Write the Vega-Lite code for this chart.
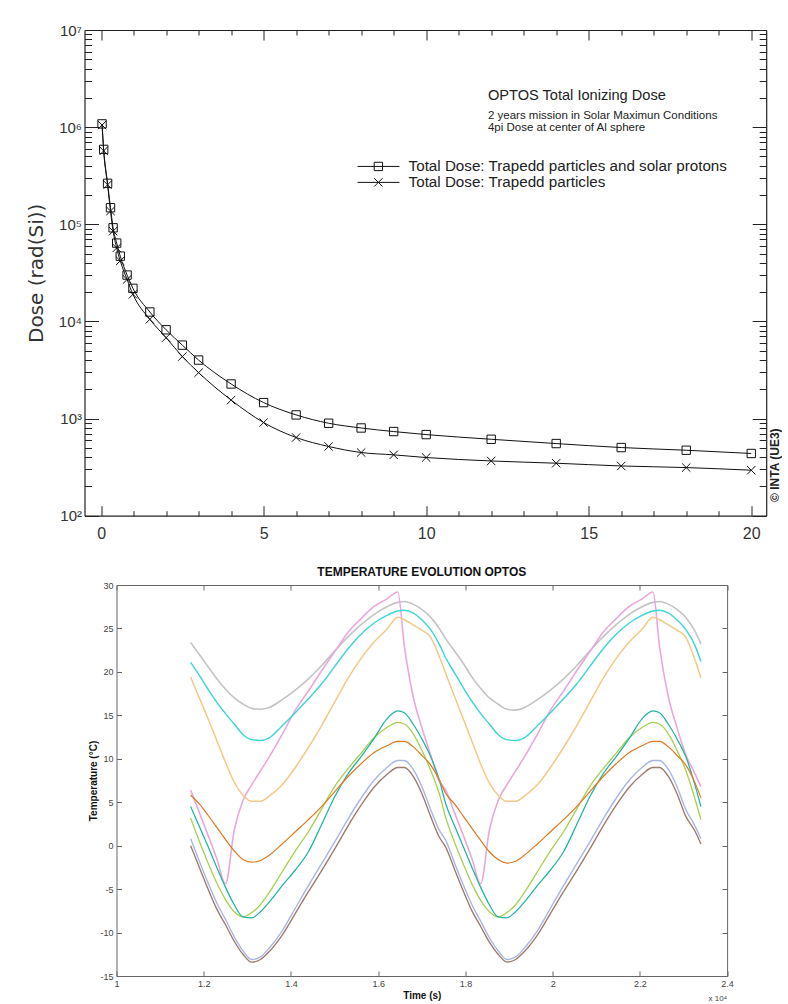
{
  "$schema": "https://vega.github.io/schema/vega-lite/v6.json",
  "background": "white",
  "padding": {"left": 25.5, "top": 23, "right": 0, "bottom": 0},
  "spacing": 19,
  "config": {"view": {"stroke": null}, "font": "Liberation Sans", "axis": {"grid": false}},
  "datasets": {
    "dose": [
      {"series": "A", "d": 0.03, "dose": 1080000}, {"series": "A", "d": 0.08, "dose": 590000}, {"series": "A", "d": 0.2, "dose": 264000},
      {"series": "A", "d": 0.29, "dose": 148000}, {"series": "A", "d": 0.37, "dose": 92000}, {"series": "A", "d": 0.48, "dose": 64000},
      {"series": "A", "d": 0.59, "dose": 47000}, {"series": "A", "d": 0.8, "dose": 30000}, {"series": "A", "d": 0.98, "dose": 21900},
      {"series": "A", "d": 1.5, "dose": 12500}, {"series": "A", "d": 2, "dose": 8200}, {"series": "A", "d": 2.5, "dose": 5700},
      {"series": "A", "d": 3, "dose": 4000}, {"series": "A", "d": 4, "dose": 2270}, {"series": "A", "d": 5, "dose": 1460},
      {"series": "A", "d": 6, "dose": 1090}, {"series": "A", "d": 7, "dose": 895}, {"series": "A", "d": 8, "dose": 800},
      {"series": "A", "d": 9, "dose": 735}, {"series": "A", "d": 10, "dose": 684}, {"series": "A", "d": 12, "dose": 612},
      {"series": "A", "d": 14, "dose": 553}, {"series": "A", "d": 16, "dose": 503}, {"series": "A", "d": 18, "dose": 472},
      {"series": "A", "d": 20, "dose": 437},
      {"series": "B", "d": 0.03, "dose": 1050000}, {"series": "B", "d": 0.08, "dose": 570000}, {"series": "B", "d": 0.2, "dose": 255000},
      {"series": "B", "d": 0.29, "dose": 137000}, {"series": "B", "d": 0.37, "dose": 85000}, {"series": "B", "d": 0.48, "dose": 57000},
      {"series": "B", "d": 0.59, "dose": 42000}, {"series": "B", "d": 0.8, "dose": 27000}, {"series": "B", "d": 0.98, "dose": 19000},
      {"series": "B", "d": 1.5, "dose": 10500}, {"series": "B", "d": 2, "dose": 6800}, {"series": "B", "d": 2.5, "dose": 4350},
      {"series": "B", "d": 3, "dose": 2970}, {"series": "B", "d": 4, "dose": 1550}, {"series": "B", "d": 5, "dose": 910},
      {"series": "B", "d": 6, "dose": 638}, {"series": "B", "d": 7, "dose": 516}, {"series": "B", "d": 8, "dose": 447},
      {"series": "B", "d": 9, "dose": 423}, {"series": "B", "d": 10, "dose": 397}, {"series": "B", "d": 12, "dose": 366},
      {"series": "B", "d": 14, "dose": 347}, {"series": "B", "d": 16, "dose": 325}, {"series": "B", "d": 18, "dose": 313},
      {"series": "B", "d": 20, "dose": 294}
    ],
    "legend": [
      {"series": "A", "x1": 7.89, "x2": 9.18, "xm": 8.53, "xt": 9.46, "y": 394000, "label": "Total Dose: Trapedd particles and solar protons"},
      {"series": "B", "x1": 7.89, "x2": 9.18, "xm": 8.53, "xt": 9.46, "y": 270000, "label": "Total Dose: Trapedd particles"}
    ],
    "temp": [
      {"t": 11700, "gray": 23.4, "pink": 6.4, "yel": 19.4, "cyan": 21.1, "lav": 0.8, "brn": 0.0, "grn": 3.2, "teal": 4.5, "org": 5.8},
      {"t": 11900, "gray": 22.0, "pink": 3.8, "yel": 17.0, "cyan": 19.6, "lav": -1.8, "brn": -2.5, "grn": 0.5, "teal": 2.2, "org": 4.8},
      {"t": 12100, "gray": 20.6, "pink": 1.2, "yel": 14.6, "cyan": 18.0, "lav": -4.3, "brn": -5.0, "grn": -2.0, "teal": -0.1, "org": 3.5},
      {"t": 12300, "gray": 19.2, "pink": -1.5, "yel": 12.1, "cyan": 16.5, "lav": -6.6, "brn": -7.3, "grn": -4.3, "teal": -2.5, "org": 2.1},
      {"t": 12500, "gray": 18.0, "pink": -4.4, "yel": 9.6, "cyan": 15.2, "lav": -8.5, "brn": -9.1, "grn": -6.2, "teal": -4.8, "org": 0.7},
      {"t": 12700, "gray": 17.0, "pink": 1.8, "yel": 7.3, "cyan": 14.0, "lav": -10.5, "brn": -11.0, "grn": -7.6, "teal": -6.8, "org": -0.6},
      {"t": 12900, "gray": 16.3, "pink": 5.2, "yel": 5.8, "cyan": 12.8, "lav": -12.1, "brn": -12.5, "grn": -8.2, "teal": -8.2, "org": -1.6},
      {"t": 13100, "gray": 15.8, "pink": 7.0, "yel": 5.1, "cyan": 12.2, "lav": -13.1, "brn": -13.4, "grn": -7.7, "teal": -8.3, "org": -1.9},
      {"t": 13300, "gray": 15.7, "pink": 8.6, "yel": 5.1, "cyan": 12.1, "lav": -12.8, "brn": -13.1, "grn": -6.8, "teal": -7.6, "org": -1.7},
      {"t": 13500, "gray": 15.9, "pink": 10.2, "yel": 5.7, "cyan": 12.4, "lav": -11.8, "brn": -12.2, "grn": -5.4, "teal": -6.5, "org": -1.1},
      {"t": 13800, "gray": 16.8, "pink": 12.8, "yel": 7.0, "cyan": 13.8, "lav": -9.8, "brn": -10.3, "grn": -3.0, "teal": -4.6, "org": 0.2},
      {"t": 14100, "gray": 17.9, "pink": 15.6, "yel": 9.0, "cyan": 15.3, "lav": -7.2, "brn": -7.8, "grn": -0.6, "teal": -2.8, "org": 1.6},
      {"t": 14400, "gray": 19.2, "pink": 17.8, "yel": 11.3, "cyan": 16.9, "lav": -4.6, "brn": -5.3, "grn": 1.6, "teal": -0.7, "org": 3.0},
      {"t": 14700, "gray": 20.7, "pink": 20.1, "yel": 13.8, "cyan": 18.6, "lav": -2.1, "brn": -2.9, "grn": 4.2, "teal": 2.4, "org": 4.5},
      {"t": 15000, "gray": 22.4, "pink": 22.3, "yel": 16.5, "cyan": 20.6, "lav": 0.4, "brn": -0.4, "grn": 6.8, "teal": 5.6, "org": 6.2},
      {"t": 15300, "gray": 24.0, "pink": 24.5, "yel": 19.2, "cyan": 22.6, "lav": 3.0, "brn": 2.2, "grn": 8.8, "teal": 8.2, "org": 7.9},
      {"t": 15600, "gray": 25.4, "pink": 26.1, "yel": 21.5, "cyan": 24.3, "lav": 5.4, "brn": 4.6, "grn": 10.6, "teal": 10.2, "org": 9.4},
      {"t": 15900, "gray": 26.6, "pink": 27.5, "yel": 23.4, "cyan": 25.6, "lav": 7.5, "brn": 6.7, "grn": 12.4, "teal": 12.3, "org": 10.7},
      {"t": 16200, "gray": 27.5, "pink": 28.4, "yel": 24.9, "cyan": 26.5, "lav": 9.0, "brn": 8.2, "grn": 13.6, "teal": 14.6, "org": 11.5},
      {"t": 16450, "gray": 28.0, "pink": 29.2, "yel": 26.3, "cyan": 27.0, "lav": 9.8, "brn": 9.0, "grn": 14.2, "teal": 15.5, "org": 12.0},
      {"t": 16600, "gray": 28.1, "pink": 23.0, "yel": 26.0, "cyan": 27.1, "lav": 9.8, "brn": 9.0, "grn": 14.0, "teal": 15.3, "org": 12.0},
      {"t": 16800, "gray": 27.8, "pink": 17.2, "yel": 25.4, "cyan": 26.8, "lav": 8.8, "brn": 8.0, "grn": 12.9, "teal": 14.0, "org": 11.4},
      {"t": 17000, "gray": 27.2, "pink": 13.6, "yel": 24.8, "cyan": 26.0, "lav": 6.8, "brn": 6.0, "grn": 11.0, "teal": 12.3, "org": 10.4},
      {"t": 17200, "gray": 26.3, "pink": 10.5, "yel": 24.0, "cyan": 24.9, "lav": 4.2, "brn": 3.4, "grn": 8.7, "teal": 10.3, "org": 9.3},
      {"t": 17400, "gray": 25.0, "pink": 7.4, "yel": 21.8, "cyan": 23.2, "lav": 1.8, "brn": 1.0, "grn": 6.0, "teal": 7.6, "org": 7.6},
      {"t": 17550, "gray": 23.8, "pink": 6.4, "yel": 19.8, "cyan": 21.6, "lav": 0.6, "brn": -0.2, "grn": 3.2, "teal": 4.8, "org": 6.0},
      {"t": 17750, "gray": 22.4, "pink": 3.8, "yel": 17.2, "cyan": 19.9, "lav": -2.0, "brn": -2.7, "grn": 0.4, "teal": 2.3, "org": 4.8},
      {"t": 17950, "gray": 21.0, "pink": 1.2, "yel": 14.6, "cyan": 18.2, "lav": -4.5, "brn": -5.2, "grn": -2.1, "teal": -0.1, "org": 3.4},
      {"t": 18150, "gray": 19.4, "pink": -1.5, "yel": 12.0, "cyan": 16.6, "lav": -6.8, "brn": -7.5, "grn": -4.4, "teal": -2.5, "org": 2.0},
      {"t": 18350, "gray": 18.1, "pink": -4.4, "yel": 9.4, "cyan": 15.2, "lav": -8.7, "brn": -9.3, "grn": -6.3, "teal": -4.8, "org": 0.6},
      {"t": 18550, "gray": 17.0, "pink": 1.8, "yel": 7.2, "cyan": 14.0, "lav": -10.6, "brn": -11.1, "grn": -7.6, "teal": -6.8, "org": -0.7},
      {"t": 18750, "gray": 16.3, "pink": 5.2, "yel": 5.8, "cyan": 12.8, "lav": -12.1, "brn": -12.5, "grn": -8.2, "teal": -8.2, "org": -1.6},
      {"t": 18950, "gray": 15.7, "pink": 7.0, "yel": 5.1, "cyan": 12.2, "lav": -13.1, "brn": -13.4, "grn": -7.7, "teal": -8.3, "org": -2.0},
      {"t": 19150, "gray": 15.6, "pink": 8.6, "yel": 5.1, "cyan": 12.1, "lav": -12.8, "brn": -13.1, "grn": -6.8, "teal": -7.6, "org": -1.8},
      {"t": 19350, "gray": 15.9, "pink": 10.2, "yel": 5.7, "cyan": 12.4, "lav": -11.8, "brn": -12.2, "grn": -5.4, "teal": -6.5, "org": -1.1},
      {"t": 19650, "gray": 16.8, "pink": 12.8, "yel": 7.0, "cyan": 13.8, "lav": -9.8, "brn": -10.3, "grn": -3.0, "teal": -4.6, "org": 0.2},
      {"t": 19950, "gray": 17.9, "pink": 15.6, "yel": 9.0, "cyan": 15.3, "lav": -7.2, "brn": -7.8, "grn": -0.6, "teal": -2.8, "org": 1.6},
      {"t": 20250, "gray": 19.2, "pink": 17.8, "yel": 11.3, "cyan": 16.9, "lav": -4.6, "brn": -5.3, "grn": 1.6, "teal": -0.7, "org": 3.0},
      {"t": 20550, "gray": 20.7, "pink": 20.1, "yel": 13.8, "cyan": 18.6, "lav": -2.1, "brn": -2.9, "grn": 4.2, "teal": 2.4, "org": 4.5},
      {"t": 20850, "gray": 22.4, "pink": 22.3, "yel": 16.5, "cyan": 20.6, "lav": 0.4, "brn": -0.4, "grn": 6.8, "teal": 5.6, "org": 6.2},
      {"t": 21150, "gray": 24.0, "pink": 24.5, "yel": 19.2, "cyan": 22.6, "lav": 3.0, "brn": 2.2, "grn": 8.8, "teal": 8.2, "org": 7.9},
      {"t": 21450, "gray": 25.4, "pink": 26.1, "yel": 21.5, "cyan": 24.3, "lav": 5.4, "brn": 4.6, "grn": 10.6, "teal": 10.2, "org": 9.4},
      {"t": 21750, "gray": 26.6, "pink": 27.5, "yel": 23.4, "cyan": 25.6, "lav": 7.5, "brn": 6.7, "grn": 12.4, "teal": 12.3, "org": 10.7},
      {"t": 22050, "gray": 27.5, "pink": 28.4, "yel": 24.9, "cyan": 26.5, "lav": 9.0, "brn": 8.2, "grn": 13.6, "teal": 14.6, "org": 11.5},
      {"t": 22300, "gray": 28.0, "pink": 29.2, "yel": 26.3, "cyan": 27.0, "lav": 9.8, "brn": 9.0, "grn": 14.2, "teal": 15.5, "org": 12.0},
      {"t": 22450, "gray": 28.1, "pink": 23.0, "yel": 26.0, "cyan": 27.1, "lav": 9.8, "brn": 9.0, "grn": 14.0, "teal": 15.3, "org": 12.0},
      {"t": 22650, "gray": 27.8, "pink": 17.2, "yel": 25.4, "cyan": 26.8, "lav": 8.8, "brn": 8.0, "grn": 12.9, "teal": 14.0, "org": 11.4},
      {"t": 22850, "gray": 27.2, "pink": 13.6, "yel": 24.8, "cyan": 26.0, "lav": 6.8, "brn": 6.0, "grn": 11.0, "teal": 12.3, "org": 10.4},
      {"t": 23050, "gray": 26.3, "pink": 10.5, "yel": 24.0, "cyan": 24.9, "lav": 4.2, "brn": 3.4, "grn": 8.7, "teal": 10.3, "org": 9.3},
      {"t": 23250, "gray": 24.8, "pink": 8.4, "yel": 21.6, "cyan": 23.2, "lav": 2.4, "brn": 1.8, "grn": 5.6, "teal": 7.2, "org": 7.4},
      {"t": 23400, "gray": 23.2, "pink": 6.8, "yel": 19.3, "cyan": 21.2, "lav": 0.8, "brn": 0.2, "grn": 3.0, "teal": 4.5, "org": 5.5}
    ]
  },
  "vconcat": [
    {
      "width": 681.7,
      "height": 485.7,
      "layer": [
        {
          "data": {"name": "dose"},
          "mark": {"type": "line", "color": "#111", "strokeWidth": 1, "interpolate": "monotone"},
          "encoding": {
            "x": {"field": "d", "type": "quantitative", "scale": {"domain": [-0.51, 20.46], "nice": false, "zero": false},
              "axis": {"orient": "bottom", "values": [0,1,2,3,4,5,6,7,8,9,10,11,12,13,14,15,16,17,18,19,20],
                "labelExpr": "datum.value % 5 === 0 ? datum.label : ''",
                "tickSize": {"condition": {"test": "datum.value % 5 === 0", "value": -10}, "value": -5},
                "labelPadding": 20, "labelFontSize": 16, "labelColor": "#333", "labelOverlap": false, "labelFlush": false,
                "domainColor": "#222", "tickColor": "#222", "domainWidth": 1.2, "tickWidth": 1, "title": null}},
            "y": {"field": "dose", "type": "quantitative", "scale": {"type": "log", "domain": [100, 10000000], "nice": false},
              "axis": {"orient": "left",
                "values": [100,200,300,400,500,600,700,800,900,1000,2000,3000,4000,5000,6000,7000,8000,9000,10000,20000,30000,40000,50000,60000,70000,80000,90000,100000,200000,300000,400000,500000,600000,700000,800000,900000,1000000,2000000,3000000,4000000,5000000,6000000,7000000,8000000,9000000,10000000],
                "labelExpr": "datum.value == 100 ? '10²' : datum.value == 1000 ? '10³' : datum.value == 10000 ? '10⁴' : datum.value == 100000 ? '10⁵' : datum.value == 1000000 ? '10⁶' : datum.value == 10000000 ? '10⁷' : ''",
                "tickSize": {"condition": {"test": "indexof([100,1000,10000,100000,1000000,10000000], datum.value) >= 0", "value": -14}, "value": -7},
                "labelPadding": 17, "labelFontSize": 15, "labelColor": "#333", "labelOverlap": false, "labelFlush": false,
                "domainColor": "#222", "tickColor": "#222", "domainWidth": 1.2, "tickWidth": 1,
                "title": "Dose (rad(Si))", "titleFont": "DejaVu Sans", "titleFontSize": 20, "titleFontWeight": "normal", "titleColor": "#333", "titlePadding": 12}},
            "detail": {"field": "series"}
          }
        },
        {
          "data": {"name": "dose"},
          "mark": {"type": "point", "filled": false, "color": "#111", "strokeWidth": 1, "size": 70, "opacity": 1},
          "encoding": {
            "x": {"field": "d", "type": "quantitative", "scale": {"domain": [-0.51, 20.46], "nice": false, "zero": false},
              "axis": {"orient": "top", "values": [0,1,2,3,4,5,6,7,8,9,10,11,12,13,14,15,16,17,18,19,20], "labels": false,
                "tickSize": {"condition": {"test": "datum.value % 5 === 0", "value": -10}, "value": -5},
                "domainColor": "#222", "tickColor": "#222", "domainWidth": 1.2, "tickWidth": 1, "title": null}},
            "y": {"field": "dose", "type": "quantitative", "scale": {"type": "log", "domain": [100, 10000000], "nice": false},
              "axis": {"orient": "right",
                "values": [100,200,300,400,500,600,700,800,900,1000,2000,3000,4000,5000,6000,7000,8000,9000,10000,20000,30000,40000,50000,60000,70000,80000,90000,100000,200000,300000,400000,500000,600000,700000,800000,900000,1000000,2000000,3000000,4000000,5000000,6000000,7000000,8000000,9000000,10000000],
                "labels": false,
                "tickSize": {"condition": {"test": "indexof([100,1000,10000,100000,1000000,10000000], datum.value) >= 0", "value": -14}, "value": -7},
                "domainColor": "#222", "tickColor": "#222", "domainWidth": 1.2, "tickWidth": 1, "title": null}},
            "shape": {"field": "series", "type": "nominal", "scale": {"domain": ["A", "B"], "range": ["square", "M-1,-1L1,1M-1,1L1,-1"]}, "legend": null}
          }
        },
        {
          "data": {"name": "legend"},
          "mark": {"type": "rule", "color": "#111", "strokeWidth": 1},
          "encoding": {
            "x": {"field": "x1", "type": "quantitative", "scale": {"domain": [-0.51, 20.46], "nice": false, "zero": false}, "axis": null},
            "x2": {"field": "x2"},
            "y": {"field": "y", "type": "quantitative", "scale": {"type": "log", "domain": [100, 10000000], "nice": false}, "axis": null}
          }
        },
        {
          "data": {"name": "legend"},
          "mark": {"type": "point", "filled": false, "color": "#111", "strokeWidth": 1, "size": 70, "opacity": 1},
          "encoding": {
            "x": {"field": "xm", "type": "quantitative", "scale": {"domain": [-0.51, 20.46], "nice": false, "zero": false}, "axis": null},
            "y": {"field": "y", "type": "quantitative", "scale": {"type": "log", "domain": [100, 10000000], "nice": false}, "axis": null},
            "shape": {"field": "series", "type": "nominal", "scale": {"domain": ["A", "B"], "range": ["square", "M-1,-1L1,1M-1,1L1,-1"]}, "legend": null}
          }
        },
        {
          "data": {"name": "legend"},
          "mark": {"type": "text", "align": "left", "baseline": "middle", "fontSize": 15.2, "color": "#222"},
          "encoding": {
            "x": {"field": "xt", "type": "quantitative", "scale": {"domain": [-0.51, 20.46], "nice": false, "zero": false}, "axis": null},
            "y": {"field": "y", "type": "quantitative", "scale": {"type": "log", "domain": [100, 10000000], "nice": false}, "axis": null},
            "text": {"field": "label"}
          }
        },
        {
          "data": {"values": [{"x": 11.9, "y": 2070000, "label": "OPTOS Total Ionizing Dose"}]},
          "mark": {"type": "text", "align": "left", "baseline": "middle", "fontSize": 14.6, "color": "#222"},
          "encoding": {
            "x": {"field": "x", "type": "quantitative", "scale": {"domain": [-0.51, 20.46], "nice": false, "zero": false}, "axis": null},
            "y": {"field": "y", "type": "quantitative", "scale": {"type": "log", "domain": [100, 10000000], "nice": false}, "axis": null},
            "text": {"field": "label"}
          }
        },
        {
          "data": {"values": [
            {"x": 11.9, "y": 1290000, "label": "2 years mission in Solar Maximun Conditions"},
            {"x": 11.9, "y": 970000, "label": "4pi Dose at center of Al sphere"}
          ]},
          "mark": {"type": "text", "align": "left", "baseline": "middle", "fontSize": 11.5, "color": "#222"},
          "encoding": {
            "x": {"field": "x", "type": "quantitative", "scale": {"domain": [-0.51, 20.46], "nice": false, "zero": false}, "axis": null},
            "y": {"field": "y", "type": "quantitative", "scale": {"type": "log", "domain": [100, 10000000], "nice": false}, "axis": null},
            "text": {"field": "label"}
          }
        },
        {
          "data": {"values": [{"x": 20.72, "y": 331, "label": "© INTA (UE3)"}]},
          "mark": {"type": "text", "align": "center", "baseline": "middle", "fontSize": 12, "fontWeight": "bold", "angle": 270, "color": "#222"},
          "encoding": {
            "x": {"field": "x", "type": "quantitative", "scale": {"domain": [-0.51, 20.46], "nice": false, "zero": false}, "axis": null},
            "y": {"field": "y", "type": "quantitative", "scale": {"type": "log", "domain": [100, 10000000], "nice": false}, "axis": null},
            "text": {"field": "label"}
          }
        }
      ],
      "resolve": {"axis": {"x": "independent", "y": "independent"}}
    },
    {
      "spacing": 0,
      "hconcat": [
        {"width": 1, "height": 1, "data": {"values": [{"a": 1}]}, "mark": {"type": "point", "opacity": 0}},
        {
          "width": 610.6,
          "height": 391,
          "title": {"text": "TEMPERATURE EVOLUTION OPTOS", "fontSize": 12, "fontWeight": "bold", "color": "#111", "offset": 2, "anchor": "middle"},
          "layer": [
            {
              "data": {"name": "temp"},
              "transform": [{"fold": ["gray", "pink", "yel", "cyan", "lav", "brn", "grn", "teal", "org"], "as": ["s", "v"]}],
              "mark": {"type": "line", "interpolate": "monotone"},
              "encoding": {
                "x": {"field": "t", "type": "quantitative", "scale": {"domain": [10000, 24000], "nice": false, "zero": false},
                  "axis": {"orient": "bottom", "values": [10000,12000,14000,16000,18000,20000,22000,24000],
                    "labelExpr": "format(datum.value / 10000, '~g')", "tickSize": -5, "labelPadding": 8,
                    "labelFontSize": 9, "labelColor": "#444", "labelOverlap": false, "labelFlush": false,
                    "domainColor": "#666", "tickColor": "#666", "domainWidth": 1, "tickWidth": 1,
                    "title": "Time (s)", "titleFontSize": 10, "titleFontWeight": "bold", "titleColor": "#111", "titlePadding": 2}},
                "y": {"field": "v", "type": "quantitative", "scale": {"domain": [-15, 30], "nice": false, "zero": false},
                  "axis": {"orient": "left", "values": [-15,-10,-5,0,5,10,15,20,25,30],
                    "labelExpr": "'' + datum.value", "tickSize": -5, "labelPadding": 8.5,
                    "labelFontSize": 9, "labelColor": "#444", "labelOverlap": false, "labelFlush": false,
                    "domainColor": "#666", "tickColor": "#666", "domainWidth": 1, "tickWidth": 1,
                    "title": "Temperature (°C)", "titleFontSize": 10, "titleFontWeight": "bold", "titleColor": "#111", "titlePadding": 1}},
                "color": {"field": "s", "type": "nominal",
                  "scale": {"domain": ["gray", "pink", "yel", "cyan", "lav", "brn", "grn", "teal", "org"],
                    "range": ["#c4c4c4", "#e9a6dd", "#f2c987", "#3dd6d6", "#a9b6e2", "#9b7b6d", "#a8cf4f", "#22b3a3", "#e0781e"]}, "legend": null},
                "strokeWidth": {"field": "s", "type": "ordinal",
                  "scale": {"domain": ["gray", "pink", "yel", "cyan", "lav", "brn", "grn", "teal", "org"],
                    "range": [1.6, 1.2, 1.4, 2.6, 1.6, 2.2, 1.5, 1.8, 2.2]}, "legend": null}
              }
            },
            {
              "data": {"values": [{"t": 24000, "v": -17.65, "label": "x 10⁴"}]},
              "mark": {"type": "text", "align": "right", "baseline": "middle", "fontSize": 8, "color": "#444"},
              "encoding": {
                "x": {"field": "t", "type": "quantitative", "scale": {"domain": [10000, 24000], "nice": false, "zero": false},
                  "axis": {"orient": "top", "values": [10000,12000,14000,16000,18000,20000,22000,24000], "labels": false,
                    "tickSize": -5, "domainColor": "#666", "tickColor": "#666", "domainWidth": 1, "tickWidth": 1, "title": null}},
                "y": {"field": "v", "type": "quantitative", "scale": {"domain": [-15, 30], "nice": false, "zero": false},
                  "axis": {"orient": "right", "values": [-15,-10,-5,0,5,10,15,20,25,30], "labels": false,
                    "tickSize": -5, "domainColor": "#666", "tickColor": "#666", "domainWidth": 1, "tickWidth": 1, "title": null}},
                "text": {"field": "label"}
              }
            }
          ],
          "resolve": {"axis": {"x": "independent", "y": "independent"}}
        }
      ]
    }
  ]
}
